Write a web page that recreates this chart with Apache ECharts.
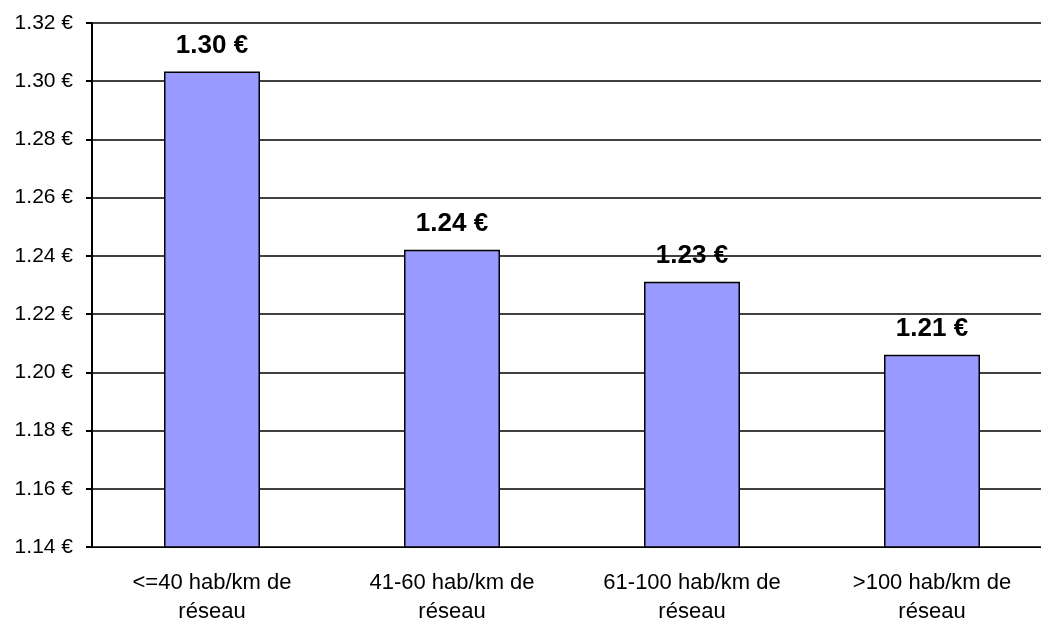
<!DOCTYPE html>
<html>
<head>
<meta charset="utf-8">
<script src="https://cdn.jsdelivr.net/npm/echarts@6/dist/echarts.min.js"></script>
<style>
  html, body { margin: 0; padding: 0; background: #fff; overflow: hidden; }
  #bar { width: 1052px; height: 628px; }
</style>
</head>
<body>
<div id="bar"></div>
<script>
    // categories / values
    var categories = ['<=40 hab/km de\nréseau', '41-60 hab/km de\nréseau', '61-100 hab/km de\nréseau', '>100 hab/km de\nréseau'];
    var prices = [1.3033, 1.2421, 1.2311, 1.206];

    var myChart = echarts.init(document.getElementById('bar'));

    var option = {
        animation: false,
        textStyle: { fontFamily: 'Liberation Sans, Arial, sans-serif' },
        grid: {
            left: 92,
            top: 23,
            right: 0,
            bottom: 81
        },
        xAxis: {
            type: 'category',
            data: categories,
            axisLine: { lineStyle: { color: '#000', width: 1 } },
            axisTick: { alignWithLabel: false, length: 7, lineStyle: { color: '#000', width: 2 } },
            axisLabel: {
                interval: 0,
                hideOverlap: false,
                color: '#000',
                fontSize: 22,
                lineHeight: 29,
                margin: 21
            }
        },
        yAxis: {
            type: 'value',
            min: 1.14,
            max: 1.32,
            interval: 0.02,
            axisLine: { show: true, lineStyle: { color: '#000', width: 2 } },
            axisTick: { show: true, length: 6, lineStyle: { color: '#000', width: 2 } },
            axisLabel: {
                color: '#000',
                fontSize: 21,
                margin: 19,
                formatter: function (v) { return v.toFixed(2) + ' €'; }
            },
            splitLine: { lineStyle: { color: '#000', width: 1.5 } }
        },
        series: [
            {
                type: 'bar',
                data: prices,
                barWidth: 96,
                itemStyle: {
                    color: '#9999FF',
                    borderColor: '#000',
                    borderWidth: 1.5
                },
                label: {
                    show: true,
                    position: 'top',
                    distance: 13,
                    color: '#000',
                    fontSize: 26,
                    fontWeight: 'bold',
                    formatter: function (p) { return p.value.toFixed(2) + ' €'; }
                }
            }
        ]
    };

    myChart.setOption(option);
</script>
</body>
</html>
